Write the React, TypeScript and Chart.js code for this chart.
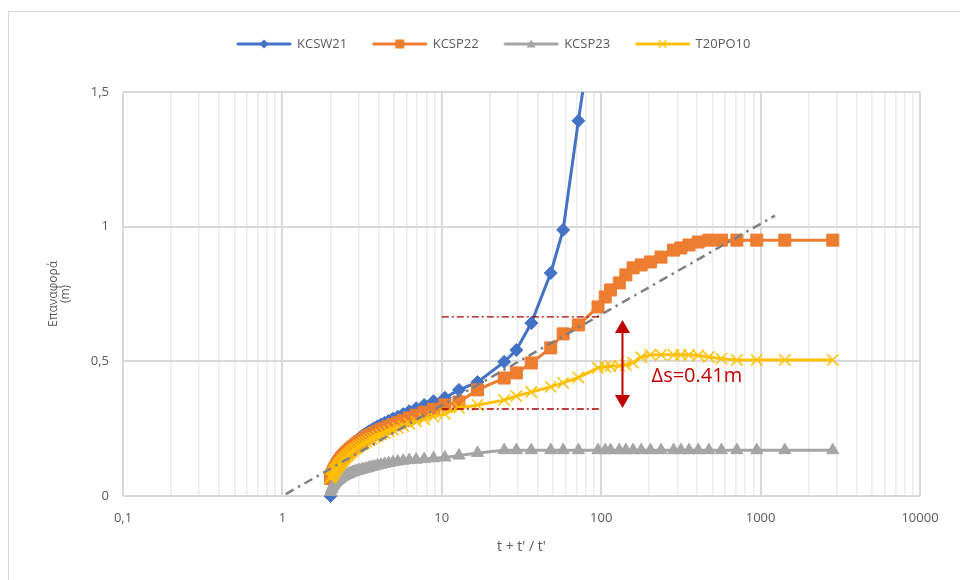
import React, { useEffect, useRef } from 'react';
import { Chart, registerables } from 'chart.js';

Chart.register(...registerables);
Chart.defaults.font.family = "'Open Sans', 'Noto Sans', sans-serif";

// ---- data -------------------------------------------------------------
const seriesNames = ['KCSW21', 'KCSP22', 'KCSP23', 'T20PO10'];

// (t + t') / t'
const timeRatio = [
  2836, 1418.5, 946, 709.75, 568, 473.5, 406, 355.4, 316, 284.5,
  237.25, 203.5, 178.2, 158.5, 142.75, 129.9, 114.4, 106, 95.5,
  71.9, 57.7, 48.25, 36.44, 29.35, 24.63, 16.75, 12.81, 10.45,
  8.875, 7.75, 6.906, 6.25, 5.725, 5.295, 4.9375, 4.635, 4.375, 4.15,
  3.953, 3.779, 3.625, 3.487, 3.3625, 3.25, 3.148, 3.054, 2.969, 2.89,
  2.817, 2.75, 2.6875, 2.629, 2.575, 2.524, 2.477, 2.432, 2.39, 2.35,
  2.3125, 2.277, 2.243, 2.2115, 2.181, 2.152, 2.125, 2.099, 2.074, 2.05,
  2.027, 2.005,
];

// KCSW21 starts at the 19th ratio value (95.5)
const kcsw21Start = 18;
const kcsw21 = [
  1.88, 1.393, 0.988, 0.828, 0.642, 0.542, 0.498, 0.423, 0.394, 0.365,
  0.352, 0.338, 0.326, 0.315, 0.304, 0.295, 0.287, 0.279, 0.272, 0.265,
  0.259, 0.252, 0.246, 0.24, 0.234, 0.228, 0.222, 0.216, 0.21, 0.204,
  0.198, 0.192, 0.186, 0.18, 0.174, 0.168, 0.162, 0.156, 0.15, 0.144,
  0.138, 0.131, 0.124, 0.117, 0.11, 0.103, 0.095, 0.087, 0.078, 0.068,
  0.055, 0.0,
];

const kcsp22 = [
  0.95, 0.95, 0.95, 0.95, 0.95, 0.95, 0.943, 0.932, 0.921, 0.913,
  0.887, 0.869, 0.858, 0.847, 0.821, 0.791, 0.765, 0.739, 0.702,
  0.635, 0.602, 0.55, 0.494, 0.457, 0.438, 0.394, 0.349, 0.338,
  0.322, 0.311, 0.3, 0.29, 0.28, 0.272, 0.265, 0.258, 0.251, 0.246,
  0.24, 0.234, 0.229, 0.224, 0.218, 0.212, 0.206, 0.201, 0.196, 0.19,
  0.185, 0.18, 0.175, 0.17, 0.165, 0.16, 0.155, 0.15, 0.145, 0.14,
  0.135, 0.129, 0.123, 0.117, 0.111, 0.105, 0.099, 0.093, 0.087, 0.08,
  0.073, 0.065,
];

const kcsp23 = [
  0.17, 0.17, 0.17, 0.17, 0.17, 0.17, 0.17, 0.17, 0.17, 0.17,
  0.17, 0.17, 0.17, 0.17, 0.17, 0.17, 0.17, 0.17, 0.17,
  0.17, 0.17, 0.17, 0.17, 0.17, 0.17, 0.16, 0.15, 0.143,
  0.14, 0.137, 0.135, 0.133, 0.131, 0.128, 0.125, 0.122, 0.119, 0.116,
  0.113, 0.11, 0.108, 0.105, 0.102, 0.1, 0.098, 0.096, 0.094, 0.092,
  0.09, 0.088, 0.085, 0.083, 0.08, 0.078, 0.076, 0.074, 0.071, 0.069,
  0.066, 0.063, 0.06, 0.057, 0.054, 0.05, 0.046, 0.042, 0.037, 0.031,
  0.024, 0.015,
];

const t20po10 = [
  0.505, 0.505, 0.505, 0.505, 0.51, 0.516, 0.522, 0.524, 0.524, 0.524,
  0.524, 0.524, 0.515, 0.495, 0.487, 0.484, 0.482, 0.48, 0.476,
  0.44, 0.42, 0.405, 0.386, 0.371, 0.356, 0.338, 0.327, 0.305,
  0.295, 0.285, 0.276, 0.268, 0.26, 0.253, 0.246, 0.24, 0.234, 0.228,
  0.222, 0.217, 0.212, 0.207, 0.202, 0.197, 0.192, 0.187, 0.182, 0.177,
  0.172, 0.167, 0.162, 0.157, 0.152, 0.147, 0.142, 0.137, 0.132, 0.127,
  0.122, 0.117, 0.112, 0.107, 0.102, 0.097, 0.092, 0.087, 0.082, 0.077,
  0.072, 0.067,
];

// semi-log trend line
const trendX = [1.05, 1230];
const trendY = [0.007, 1.041];

// reference levels and the Δs arrow
const refLineX = [10, 100];
const refUpperY = [0.665, 0.665];
const refLowerY = [0.323, 0.323];
const arrowX = [136, 136];
const arrowY = [0.621, 0.359];
const deltaLabel = 'Δs=0.41m';
const deltaLabelX = 207;
const deltaLabelY = 0.423;

// axis ticks
const xTickValues = [
  0.1, 0.2, 0.3, 0.4, 0.5, 0.6, 0.7, 0.8, 0.9,
  1, 2, 3, 4, 5, 6, 7, 8, 9,
  10, 20, 30, 40, 50, 60, 70, 80, 90,
  100, 200, 300, 400, 500, 600, 700, 800, 900,
  1000, 2000, 3000, 4000, 5000, 6000, 7000, 8000, 9000,
  10000,
];
const yTickValues = [0, 0.5, 1, 1.5];
const xAxisTitle = "t + t' / t'";
const yAxisTitle = ['Επαναφορά', '(m)'];

// ---- helpers ----------------------------------------------------------
const COLORS = ['#4472C4', '#ED7D31', '#A5A5A5', '#FFC000'];
const RED = '#C00000';
const DARK_RED = '#A80000';
const TEXT = '#595959';

const isDecade = (v: number) => {
  const l = Math.log10(v);
  return Math.abs(l - Math.round(l)) < 1e-9;
};
const fmt = (v: number) => String(v).replace('.', ',');

function makeIcon(color: string, kind: string) {
  const c = document.createElement('canvas');
  c.width = 56;
  c.height = 14;
  const g = c.getContext('2d') as CanvasRenderingContext2D;
  g.strokeStyle = color;
  g.lineWidth = 3;
  g.lineCap = 'round';
  g.beginPath();
  g.moveTo(2, 7);
  g.lineTo(54, 7);
  g.stroke();
  g.fillStyle = color;
  const cx = 28;
  const cy = 7;
  g.beginPath();
  if (kind === 'diamond') {
    g.moveTo(cx, cy - 4.5);
    g.lineTo(cx + 4.5, cy);
    g.lineTo(cx, cy + 4.5);
    g.lineTo(cx - 4.5, cy);
    g.closePath();
    g.fill();
  } else if (kind === 'square') {
    g.fillRect(cx - 4.5, cy - 4.5, 9, 9);
  } else if (kind === 'triangle') {
    g.moveTo(cx, cy - 4.5);
    g.lineTo(cx + 4.5, cy + 3.5);
    g.lineTo(cx - 4.5, cy + 3.5);
    g.closePath();
    g.fill();
  } else {
    g.lineWidth = 1.2;
    g.moveTo(cx - 3.5, cy - 3.5);
    g.lineTo(cx + 3.5, cy + 3.5);
    g.moveTo(cx + 3.5, cy - 3.5);
    g.lineTo(cx - 3.5, cy + 3.5);
    g.stroke();
  }
  return c;
}

const pts = (xs: number[], ys: number[]) => ys.map((y, i) => ({ x: xs[i], y }));
const seriesClip = { left: 14, right: 14, top: 0, bottom: 14 } as any;

export default function App() {
  const ref = useRef<HTMLCanvasElement>(null);

  useEffect(() => {
    const canvas = ref.current;
    if (!canvas) return;
    const icons = [
      makeIcon(COLORS[0], 'diamond'),
      makeIcon(COLORS[1], 'square'),
      makeIcon(COLORS[2], 'triangle'),
      makeIcon(COLORS[3], 'cross'),
    ];

    const legendShift = {
      id: 'legendShift',
      afterLayout(chart: any) {
        const lg = chart.legend;
        if (!lg) return;
        const shift = 494 - (lg.left + lg.right) / 2;
        lg.left += shift;
        lg.right += shift;
      },
    };

    const deltaText = {
      id: 'deltaText',
      afterDatasetsDraw(chart: any) {
        const { ctx, scales } = chart;
        ctx.save();
        ctx.font = "20px 'Open Sans', sans-serif";
        ctx.fillStyle = RED;
        ctx.textBaseline = 'alphabetic';
        ctx.textAlign = 'left';
        ctx.fillText(
          deltaLabel,
          scales.x.getPixelForValue(deltaLabelX),
          scales.y.getPixelForValue(deltaLabelY),
        );
        ctx.restore();
      },
    };

    const chart = new Chart(canvas, {
      type: 'line',
      data: {
        datasets: [
          {
            label: seriesNames[0],
            data: pts(timeRatio.slice(kcsw21Start), kcsw21),
            borderColor: COLORS[0],
            backgroundColor: COLORS[0],
            borderWidth: 3,
            pointStyle: 'rectRot',
            pointRadius: 6.5,
            pointBorderWidth: 1,
            pointBackgroundColor: COLORS[0],
            pointBorderColor: COLORS[0],
            order: 6,
            clip: seriesClip,
          },
          {
            label: seriesNames[1],
            data: pts(timeRatio, kcsp22),
            borderColor: COLORS[1],
            backgroundColor: COLORS[1],
            borderWidth: 3,
            pointStyle: 'rect',
            pointRadius: 8.5,
            pointBorderWidth: 1,
            pointBackgroundColor: COLORS[1],
            pointBorderColor: COLORS[1],
            order: 5,
            clip: seriesClip,
          },
          {
            label: seriesNames[2],
            data: pts(timeRatio, kcsp23),
            borderColor: COLORS[2],
            backgroundColor: COLORS[2],
            borderWidth: 3,
            pointStyle: 'triangle',
            pointRadius: 7,
            pointBorderWidth: 1,
            pointBackgroundColor: COLORS[2],
            pointBorderColor: COLORS[2],
            order: 4,
            clip: seriesClip,
          },
          {
            label: seriesNames[3],
            data: pts(timeRatio, t20po10),
            borderColor: COLORS[3],
            backgroundColor: COLORS[3],
            borderWidth: 3,
            pointStyle: 'crossRot',
            pointRadius: 8,
            pointBorderWidth: 1.5,
            pointBackgroundColor: COLORS[3],
            pointBorderColor: COLORS[3],
            order: 3,
            clip: seriesClip,
          },
          {
            label: 'trend',
            data: pts(trendX, trendY),
            borderColor: '#7F7F7F',
            borderWidth: 2.5,
            borderDash: [9, 5, 2.5, 5],
            pointRadius: 0,
            order: 2,
          },
          {
            label: 'upper',
            data: pts(refLineX, refUpperY),
            borderColor: DARK_RED,
            borderWidth: 1.4,
            borderDash: [7, 3, 2, 3],
            pointRadius: 0,
            order: 1,
          },
          {
            label: 'lower',
            data: pts(refLineX, refLowerY),
            borderColor: DARK_RED,
            borderWidth: 1.4,
            borderDash: [7, 3, 2, 3],
            pointRadius: 0,
            order: 1,
          },
          {
            label: 'arrow',
            data: pts(arrowX, arrowY),
            borderColor: RED,
            backgroundColor: RED,
            borderWidth: 2,
            pointStyle: 'triangle',
            pointRadius: 8.7,
            pointRotation: [0, 180],
            pointBorderWidth: 0,
            pointBackgroundColor: RED,
            order: 0,
          },
        ],
      },
      options: {
        responsive: false,
        animation: false,
        events: [],
        layout: { padding: { top: 11.5, right: 40, bottom: 0, left: 0 } },
        plugins: {
          legend: {
            display: true,
            position: 'top',
            labels: {
              usePointStyle: true,
              pointStyleWidth: 53,
              padding: 26,
              color: TEXT,
              font: { size: 13 },
              filter: (item: any) => item.datasetIndex < 4,
              sort: (a: any, b: any) => a.datasetIndex - b.datasetIndex,
              generateLabels: (ch: any) => {
                const items = (Chart.defaults.plugins.legend.labels as any).generateLabels(ch);
                return items.map((it: any) => ({
                  ...it,
                  pointStyle: icons[it.datasetIndex] || it.pointStyle,
                }));
              },
            },
          },
          title: {
            display: true,
            text: '',
            weight: 500,
            font: { size: 1, lineHeight: 1 },
            padding: { top: 0, bottom: 30.5 },
          } as any,
          tooltip: { enabled: false },
        },
        scales: {
          x: {
            type: 'logarithmic',
            position: 'bottom',
            min: 0.1,
            max: 10000,
            afterBuildTicks: (scale: any) => {
              scale.ticks = xTickValues.map((v) => ({ value: v, major: isDecade(v) }));
            },
            afterFit: (scale: any) => {
              scale.height = 84;
            },
            ticks: {
              autoSkip: false,
              maxRotation: 0,
              minRotation: 0,
              padding: 14,
              color: TEXT,
              font: { size: 13 },
              callback: (v: any) => (isDecade(Number(v)) ? fmt(Number(v)) : ''),
            },
            grid: {
              drawTicks: false,
              color: (ctx: any) =>
                ctx.tick && isDecade(ctx.tick.value) ? '#d9d9d9' : '#ececec',
              lineWidth: (ctx: any) => (ctx.tick && isDecade(ctx.tick.value) ? 2 : 1.5),
            },
            border: { display: false },
            title: {
              display: true,
              text: xAxisTitle,
              color: TEXT,
              font: { size: 14, lineHeight: 1.2 },
              padding: { top: 0, bottom: 24.6 },
            },
          },
          y: {
            type: 'linear',
            min: 0,
            max: 1.5,
            afterBuildTicks: (scale: any) => {
              scale.ticks = yTickValues.map((v) => ({ value: v }));
            },
            afterFit: (scale: any) => {
              scale.width = 123;
            },
            ticks: {
              padding: 14,
              color: TEXT,
              font: { size: 13 },
              callback: (v: any) => fmt(Number(v)),
            },
            grid: { drawTicks: false, color: '#d9d9d9', lineWidth: 2 },
            border: { display: false },
            title: {
              display: true,
              text: yAxisTitle,
              color: TEXT,
              font: { size: 12, lineHeight: 1.0 },
              padding: { top: 48, bottom: 0 },
            },
          },
        },
      } as any,
      plugins: [legendShift, deltaText],
    } as any);

    return () => chart.destroy();
  }, []);

  return (
    <div
      style={{
        position: 'fixed',
        left: 0,
        top: 0,
        width: 960,
        height: 580,
        overflow: 'hidden',
        background: '#ffffff',
      }}
    >
      <div
        style={{
          position: 'absolute',
          left: 8,
          top: 11,
          width: 1000,
          height: 1000,
          border: '1px solid #d9d9d9',
          boxSizing: 'border-box',
        }}
      />
      <canvas
        ref={ref}
        width={960}
        height={580}
        style={{ position: 'absolute', left: 0, top: 0 }}
      />
    </div>
  );
}
